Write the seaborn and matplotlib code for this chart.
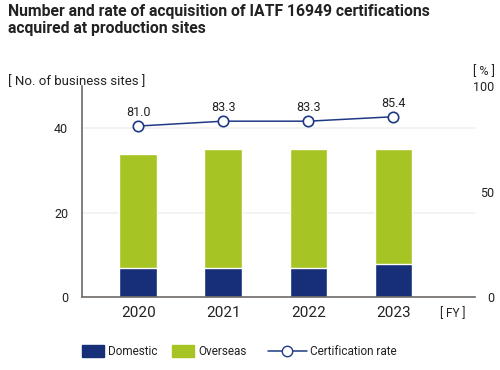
import matplotlib
matplotlib.use("Agg")
import matplotlib.pyplot as plt
from matplotlib.patches import Patch
from matplotlib.lines import Line2D
import seaborn as sns
import pandas as pd

# data
years = ["2020", "2021", "2022", "2023"]
domestic = [7, 7, 7, 8]
overseas = [27, 28, 28, 27]
cert_rate = [81.0, 83.3, 83.3, 85.4]

navy = "#172f78"
green = "#a6c423"
line_col = "#1f3a85"
text_col = "#222222"

sns.set_theme(style="white")
plt.rcParams["font.family"] = ["Roboto", "DejaVu Sans"]
plt.rcParams["text.color"] = text_col

df = pd.DataFrame({
    "year": years,
    "domestic": domestic,
    "total": [d + o for d, o in zip(domestic, overseas)],
    "rate": cert_rate,
})

fig = plt.figure(figsize=(5, 3.7), dpi=100)
ax = fig.add_axes([0.164, 0.196, 0.786, 0.572])

# stacked bars: total (green) with domestic (navy) drawn over it
sns.barplot(data=df, x="year", y="total", color=green, width=0.44,
            saturation=1, ax=ax)
sns.barplot(data=df, x="year", y="domestic", color=navy, width=0.44,
            saturation=1, ax=ax)

ax.set_ylim(0, 50)
ax.set_xlim(-0.66, 3.96)
ax.set_yticks([0, 20, 40])
ax.set_xlabel("")
ax.set_ylabel("")
ax.grid(axis="y", color="#f0f0f0", linewidth=1.2)
ax.set_axisbelow(True)
ax.tick_params(axis="y", labelsize=9, colors=text_col, length=0, pad=10)
ax.tick_params(axis="x", labelsize=11, colors=text_col, length=0, pad=6)
for s in ["top", "right"]:
    ax.spines[s].set_visible(False)
ax.spines["left"].set_color("#6e6a66")
ax.spines["bottom"].set_color("#6e6a66")
ax.spines["left"].set_linewidth(1.2)
ax.spines["bottom"].set_linewidth(1.2)

# certification rate on right axis
ax2 = ax.twinx()
sns.lineplot(x=list(range(len(years))), y=cert_rate, ax=ax2, color=line_col,
             linewidth=1.1, marker="o", markersize=7.5,
             markerfacecolor="white", markeredgecolor=line_col,
             markeredgewidth=1.2)
ax2.set_ylim(0, 100)
ax2.set_yticks([0, 50, 100])
ax2.tick_params(axis="y", labelsize=9, colors=text_col, length=0, pad=14)
for lbl in ax2.get_yticklabels():
    lbl.set_horizontalalignment("right")
for s in ["top", "right", "left", "bottom"]:
    ax2.spines[s].set_visible(False)
for i, r in enumerate(cert_rate):
    ax2.annotate(f"{r:.1f}", (i, r), xytext=(0, 5), textcoords="offset points",
                 ha="center", va="bottom", fontsize=9, color=text_col)

# titles and unit labels
fig.text(0.016, 0.99, "Number and rate of acquisition of IATF 16949 certifications\nacquired at production sites",
         ha="left", va="top", fontsize=11.3, fontweight="bold", linespacing=1.15)
fig.text(0.016, 0.78, "[ No. of business sites ]", ha="left", va="center", fontsize=9.5)
fig.text(0.99, 0.807, "[ % ]", ha="right", va="center", fontsize=9)
fig.text(0.906, 0.153, "[ FY ]", ha="center", va="center", fontsize=8.5)

# legend: three pieces so the line handle can be longer than the patches
leg_kw = dict(loc="center left", frameon=False, fontsize=8.5,
              handletextpad=0.3, borderpad=0, borderaxespad=0)
fig.legend([Patch(facecolor=navy, edgecolor=navy)], ["Domestic"],
           bbox_to_anchor=(0.164, 0.05), handlelength=1.9, handleheight=1.2,
           **leg_kw)
fig.legend([Patch(facecolor=green, edgecolor=green)], ["Overseas"],
           bbox_to_anchor=(0.344, 0.05), handlelength=1.9, handleheight=1.2,
           **leg_kw)
fig.legend([Line2D([0], [0], color=line_col, linewidth=1.1, marker="o",
                   markersize=7.5, markerfacecolor="white",
                   markeredgecolor=line_col)],
           ["Certification rate"], bbox_to_anchor=(0.536, 0.05),
           handlelength=3.3, **leg_kw)

fig.savefig("out.png", dpi=100)
